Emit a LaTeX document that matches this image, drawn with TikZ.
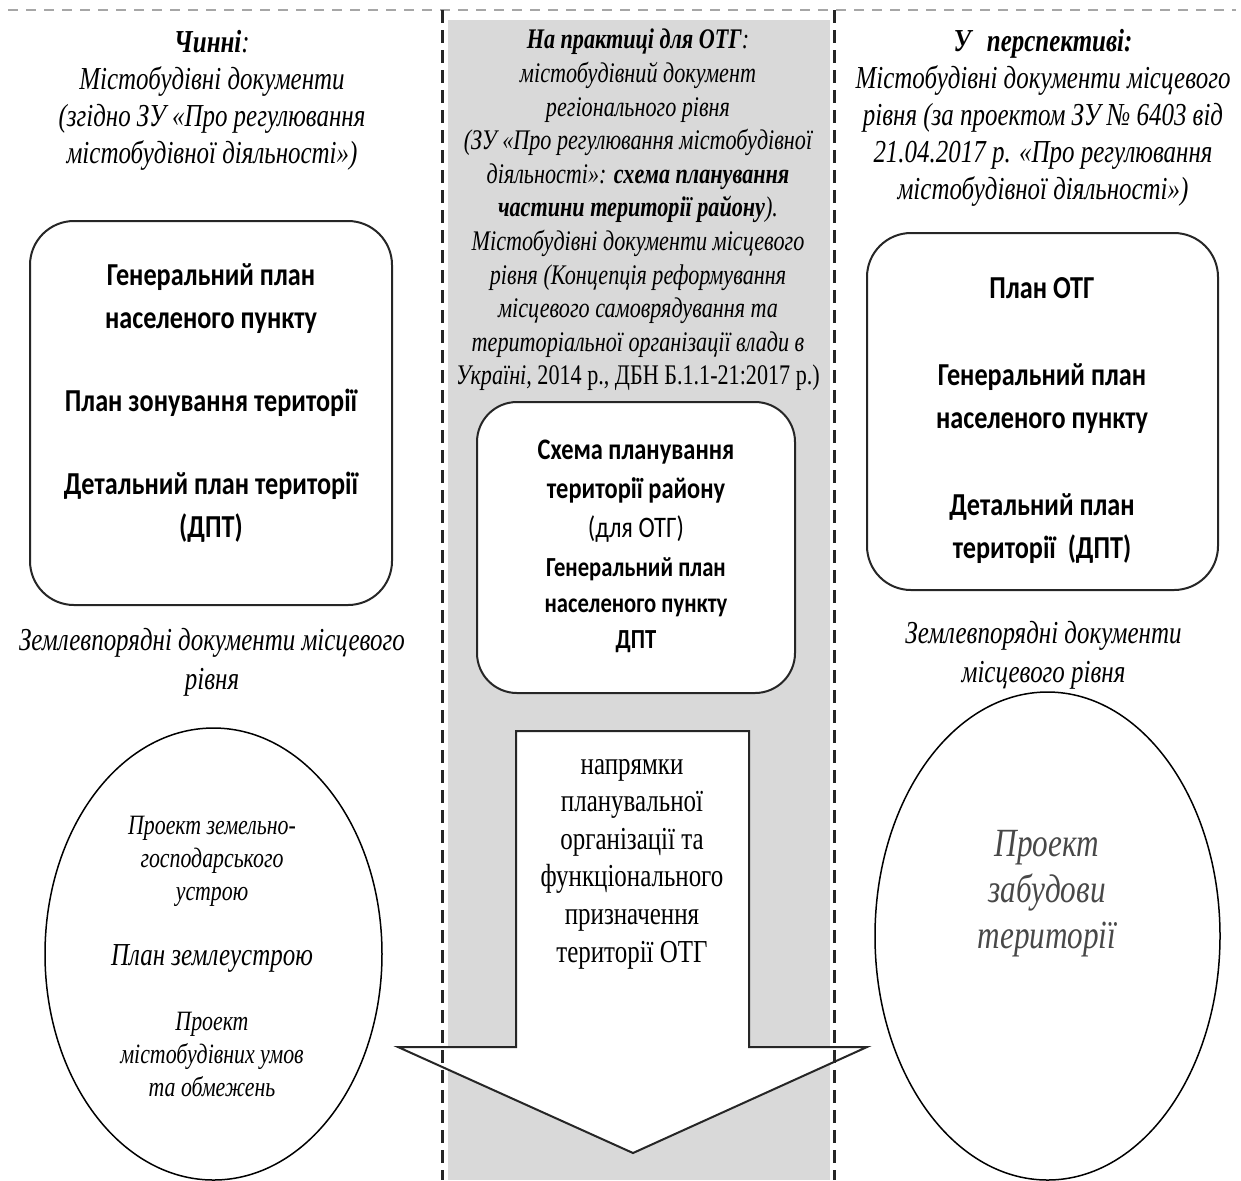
\documentclass[tikz,border=0pt]{standalone}
\usepackage{fontspec}
\usepackage{xcolor}
\usepackage{tikz}
\setmainfont{Liberation Serif}[FakeStretch=0.78]
\newfontfamily\boxfont{Carlito}[FakeStretch=0.82]
\usetikzlibrary{shapes.geometric}
\definecolor{ColumnGray}{HTML}{D9D9D9}
\definecolor{LineDark}{HTML}{262626}
\definecolor{SoftInk}{HTML}{484848}

\begin{document}
\begin{tikzpicture}[x=0.5pt, y=-0.5pt,
    headtext/.style={align=center, font=\fontsize{16}{18.5}\selectfont\itshape},
    docbox/.style={draw=LineDark, line width=1pt, rounded corners=22pt, fill=white, inner sep=0pt},
    boxtext/.style={align=center, font=\boxfont\fontsize{16}{21.5}\selectfont\bfseries},
    oval/.style={draw=black, line width=0.75pt, ellipse, inner sep=0pt},
    colline/.style={draw=black!85, line width=1.5pt, dash pattern=on 6.5pt off 3.5pt}]
    \useasboundingbox (0,0) rectangle (1241,1180);

    % Middle column background
    \fill[ColumnGray] (448,20) rectangle (830,1180);

    % Headers of the three columns
    \node[headtext] (curhead) at (212,100) {{\bfseries Чинні}:\\Містобудівні документи\\(згідно ЗУ «Про регулювання\\містобудівної діяльності»)};
    \node[headtext, font=\fontsize{14.2}{16.8}\selectfont\itshape] (midhead) at (638,210) {{\bfseries На практиці для ОТГ}:\\містобудівний документ\\регіонального рівня\\(ЗУ «Про регулювання містобудівної\\діяльності»: {\bfseries схема планування}\\{\bfseries частини території району}).\\Містобудівні документи місцевого\\рівня (Концепція реформування\\місцевого самоврядування та\\територіальної організації влади в\\Україні, {\upshape 2014 р., ДБН Б.1.1-21:2017 р.)}};
    \node[headtext] (newhead) at (1043,118) {{\bfseries У\enspace перспективі:}\\Містобудівні документи місцевого\\рівня (за проектом ЗУ № 6403 від\\21.04.2017 р. «Про регулювання\\містобудівної діяльності»)};

    % Rounded boxes with the planning documents
    \node[docbox, minimum width=181pt, minimum height=192pt] (curbox) at (211,413) {};
    \node[boxtext] (curtext) at (211,403) {Генеральний план\\населеного пункту\\[20pt]План зонування території\\[20pt]Детальний план території\\(ДПТ)};

    \node[docbox, minimum width=159pt, minimum height=145.5pt, rounded corners=20pt] (midbox) at (636,547.5) {};
    \node[boxtext, font=\boxfont\fontsize{14.9}{19.5}\selectfont\bfseries] (midtext) at (636,546) {Схема планування\\території району\\{\mdseries (для ОТГ)}\\{\fontsize{13.8}{18}\selectfont Генеральний план}\\[-1.5pt]{\fontsize{13.8}{18}\selectfont населеного пункту}\\[-1.5pt]{\fontsize{13.8}{18}\selectfont ДПТ}};

    \node[docbox, minimum width=175.5pt, minimum height=178.5pt] (newbox) at (1042.5,411.5) {};
    \node[boxtext] (newtext) at (1042,420.5) {План ОТГ\\[22pt]Генеральний план\\населеного пункту\\[22pt]Детальний план\\території\ \ (ДПТ)};

    % Land management captions
    \node[headtext, font=\fontsize{16}{19.5}\selectfont\itshape] (curland) at (212,662) {Землевпорядні документи місцевого\\рівня};
    \node[headtext, font=\fontsize{16}{19.5}\selectfont\itshape] (newland) at (1043.5,655.5) {Землевпорядні документи\\місцевого рівня};

    % Big arrow in the middle
    \draw[draw=LineDark, line width=1pt, fill=white, line join=miter] (516,731) -- (749,731) -- (749,1047) -- (867,1047) -- (633,1153) -- (398,1047) -- (516,1047) -- cycle;
    \node[align=center, font=\fontsize{16}{18.8}\selectfont] (arrowtext) at (632,864) {напрямки\\планувальної\\організації та\\функціонального\\призначення\\території ОТГ};

    % Ovals
    \node[oval, minimum width=168.5pt, minimum height=226pt] (curoval) at (213.5,954) {};
    \node[align=center, font=\fontsize{14}{16.5}\selectfont\itshape] (curovaltext) at (212,956.5) {Проект земельно-\\господарського\\устрою\\[16pt]{\fontsize{16}{19}\selectfont План землеустрою}\\[16pt]Проект\\містобудівних умов\\та обмежень};

    \node[oval, minimum width=172.5pt, minimum height=244pt] (newoval) at (1047.5,936) {};
    \node[align=center, text=SoftInk, font=\fontsize{20}{23}\selectfont\itshape] (newovaltext) at (1047,894) {Проект\\забудови\\території};

    % Column borders
    \draw[gray!70, line width=0.75pt, dash pattern=on 5pt off 4pt] (8,10) -- (1236,10);
    \draw[colline] (442,10) -- (442,1180);
    \draw[colline] (834,10) -- (834,1180);
\end{tikzpicture}
\end{document}
